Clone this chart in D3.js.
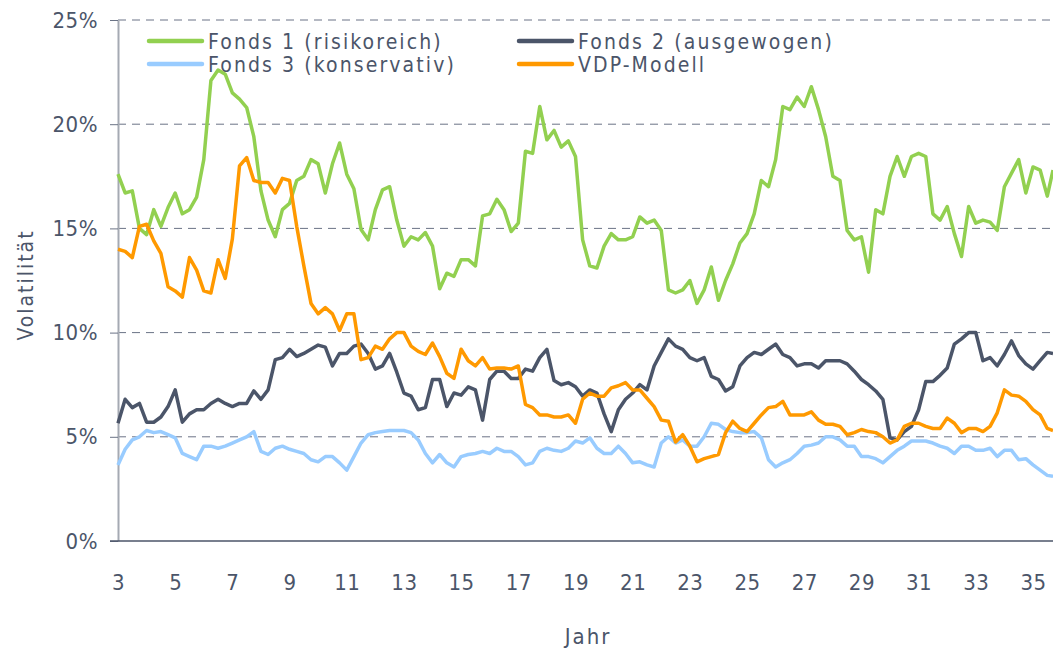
<!DOCTYPE html>
<head>
  <meta charset="utf-8">
  <script src="https://d3js.org/d3.v7.min.js"></script>
  <style>
    body { margin:0; background:#fff; }
    text { font-family: 'DejaVu Sans Condensed', 'DejaVu Sans', sans-serif; fill: #4b5569; }
    .grid-line { stroke: #6b7386; stroke-dasharray: 8,6; stroke-width: 1; }
    .y-axis path { stroke: #a5aab3; stroke-width: 2; }
    .y-axis line { stroke: #6b7386; }
    .x-axis path { stroke: #4b5569; stroke-width: 1.5; }
    .tick text { font-size: 22px; letter-spacing: 0.5px; }
    .axis-title { font-size: 21px; letter-spacing: 2px; }
    .fund-line { fill: none; stroke-width: 3.5; stroke-linejoin: round; }
    .legend text { font-size: 21px; letter-spacing: 2.1px; }
  </style>
</head>
<body>
<script>
// time axis (years), one point every quarter year, last point at the right edge
var years = d3.range(3, 35.51, 0.25).concat([35.7]);

var fonds1 = [17.6,16.7,16.8,15.0,14.7,15.9,15.1,16.0,16.7,15.7,15.9,16.5,18.3,22.1,22.6,22.4,21.5,21.2,20.8,19.4,
  16.8,15.4,14.6,15.9,16.2,17.3,17.5,18.3,18.1,16.7,18.1,19.1,17.6,16.9,14.95,14.45,15.9,16.85,17.0,15.4,
  14.15,14.6,14.45,14.8,14.15,12.1,12.85,12.7,13.5,13.5,13.2,15.6,15.7,16.4,15.9,14.85,15.25,18.7,18.6,20.85,
  19.25,19.7,18.9,19.2,18.45,14.45,13.2,13.1,14.15,14.75,14.45,14.45,14.6,15.55,15.25,15.4,14.9,12.05,11.9,12.05,
  12.5,11.4,12.05,13.15,11.55,12.5,13.3,14.3,14.75,15.7,17.3,17.0,18.3,20.85,20.7,21.3,20.85,21.8,20.7,19.4,
  17.5,17.3,14.9,14.45,14.6,12.9,15.9,15.7,17.5,18.45,17.5,18.45,18.6,18.45,15.7,15.4,16.05,14.75,13.65,16.05,
  15.25,15.4,15.3,14.9,17.0,17.65,18.3,16.7,17.95,17.8,16.55,17.8];

var fonds2 = [5.65,6.8,6.4,6.6,5.7,5.7,5.95,6.45,7.25,5.7,6.1,6.3,6.3,6.6,6.8,6.6,6.45,6.6,6.6,7.2,
  6.8,7.25,8.7,8.8,9.2,8.85,9.0,9.2,9.4,9.3,8.4,9.0,9.0,9.35,9.45,9.0,8.25,8.4,9.0,8.1,
  7.1,6.95,6.3,6.4,7.75,7.75,6.45,7.1,7.0,7.4,7.25,5.8,7.75,8.15,8.15,7.8,7.8,8.25,8.15,8.8,
  9.2,7.7,7.5,7.6,7.4,6.95,7.25,7.1,6.1,5.25,6.3,6.8,7.1,7.5,7.25,8.4,9.05,9.7,9.35,9.2,
  8.8,8.65,8.8,7.9,7.75,7.2,7.4,8.4,8.8,9.05,8.95,9.2,9.45,8.95,8.8,8.4,8.5,8.5,8.3,8.65,
  8.65,8.65,8.5,8.15,7.75,7.5,7.2,6.8,4.95,4.85,5.25,5.5,6.3,7.65,7.65,7.95,8.3,9.45,9.7,10.0,
  10.0,8.65,8.8,8.4,8.95,9.6,8.9,8.5,8.25,8.65,9.05,9.0];

var fonds3 = [3.65,4.4,4.85,5.0,5.3,5.2,5.25,5.1,4.95,4.2,4.05,3.9,4.55,4.55,4.45,4.55,4.7,4.85,5.0,5.25,
  4.3,4.15,4.45,4.55,4.4,4.3,4.2,3.9,3.8,4.05,4.05,3.75,3.4,4.05,4.7,5.1,5.2,5.25,5.3,5.3,
  5.3,5.2,4.85,4.2,3.75,4.15,3.75,3.55,4.05,4.15,4.2,4.3,4.2,4.45,4.3,4.3,4.05,3.65,3.75,4.3,
  4.45,4.35,4.3,4.45,4.8,4.7,4.95,4.45,4.2,4.2,4.55,4.2,3.75,3.8,3.65,3.55,4.7,5.0,4.7,4.85,
  4.55,4.55,5.0,5.65,5.6,5.35,5.25,5.2,5.2,5.25,4.95,3.9,3.55,3.75,3.9,4.2,4.55,4.6,4.7,5.0,
  5.0,4.85,4.55,4.55,4.05,4.05,3.95,3.75,4.05,4.35,4.55,4.8,4.8,4.8,4.7,4.55,4.45,4.2,4.55,4.55,
  4.35,4.35,4.45,4.05,4.35,4.35,3.9,3.95,3.65,3.4,3.15,3.1];

var vdp = [14.0,13.9,13.6,15.1,15.2,14.4,13.8,12.2,12.0,11.7,13.6,13.0,12.0,11.9,13.5,12.6,14.5,18.0,18.4,17.3,
  17.2,17.2,16.7,17.4,17.3,15.1,13.2,11.4,10.9,11.2,10.9,10.1,10.9,10.9,8.7,8.8,9.35,9.2,9.7,10.0,
  10.0,9.35,9.1,8.95,9.5,8.85,8.05,7.8,9.2,8.65,8.4,8.8,8.25,8.3,8.3,8.25,8.4,6.55,6.4,6.05,
  6.05,5.95,5.95,6.05,5.65,6.8,7.1,6.95,6.95,7.35,7.45,7.6,7.25,7.25,6.85,6.45,5.8,5.75,4.75,5.1,
  4.55,3.8,3.95,4.05,4.15,5.2,5.75,5.4,5.25,5.65,6.05,6.4,6.45,6.7,6.05,6.05,6.05,6.2,5.8,5.6,
  5.6,5.5,5.1,5.2,5.35,5.25,5.2,5.0,4.7,4.85,5.5,5.65,5.65,5.5,5.4,5.4,5.9,5.65,5.2,5.4,
  5.4,5.25,5.5,6.15,7.25,7.0,6.95,6.7,6.3,6.05,5.4,5.3];

var seriesNames = ["Fonds 1 (risikoreich)", "Fonds 2 (ausgewogen)", "Fonds 3 (konservativ)", "VDP-Modell"];
var seriesColors = ["#92d050", "#4b5569", "#99ccff", "#ff9900"];
var yTicks = [0, 5, 10, 15, 20, 25];
var xTicks = d3.range(3, 36, 2);

var W = 1053, H = 648;
var margin = {top: 20, right: 0, bottom: 107, left: 118};

var svg = d3.select("body").append("svg")
    .attr("width", W)
    .attr("height", H);

var x = d3.scaleLinear()
  .domain([3, 35.7])
  .range([margin.left, W - margin.right]);

var y = d3.scaleLinear()
  .domain([0, 25])
  .range([H - margin.bottom, margin.top]);

// dashed grid
svg.append("g").selectAll("line")
  .data(yTicks.filter(d => d > 0))
  .enter().append("line")
    .attr("class", "grid-line")
    .attr("x1", x.range()[0])
    .attr("x2", x.range()[1])
    .attr("y1", d => y(d))
    .attr("y2", d => y(d));

var yAxis = d3.axisLeft(y)
  .tickValues(yTicks)
  .tickFormat(d => d + "%")
  .tickSize(8)
  .tickSizeOuter(0)
  .tickPadding(12);

svg.append("g")
  .attr("class", "y-axis")
  .attr("transform", "translate(" + margin.left + ",0)")
  .call(yAxis);

var xAxis = d3.axisBottom(x)
  .tickValues(xTicks)
  .tickSize(0)
  .tickPadding(33);

var xg = svg.append("g")
  .attr("class", "x-axis")
  .attr("transform", "translate(0," + y(0) + ")")
  .call(xAxis);
xg.select(".domain").attr("d", "M" + (margin.left - 8) + ",0H" + W);

svg.append("text")
  .attr("class", "axis-title")
  .attr("transform", "translate(33,285) rotate(-90)")
  .attr("text-anchor", "middle")
  .text("Volatilität");

svg.append("text")
  .attr("class", "axis-title")
  .attr("x", 588)
  .attr("y", 644)
  .attr("text-anchor", "middle")
  .style("font-size", "22px")
  .text("Jahr");

// legend: two columns, two rows
var legendPos = [[149, 41], [519, 41], [149, 64], [519, 64]];
var legend = svg.append("g").attr("class", "legend");
seriesNames.forEach((name, i) => {
  var p = legendPos[i];
  legend.append("line")
    .attr("x1", p[0]).attr("x2", p[0] + 53)
    .attr("y1", p[1]).attr("y2", p[1])
    .style("stroke", seriesColors[i])
    .style("stroke-width", 4.5)
    .style("stroke-linecap", "round");
  legend.append("text")
    .attr("x", p[0] + 59)
    .attr("y", p[1] + 7.5)
    .text(name);
});

var line = d3.line()
  .x(d => x(d[0]))
  .y(d => y(d[1]));

var allSeries = [fonds1, fonds2, fonds3, vdp];
svg.append("g").selectAll("path")
  .data(allSeries)
  .enter().append("path")
    .attr("class", "fund-line")
    .attr("d", d => line(years.map((yr, i) => [yr, d[i]])))
    .style("stroke", (d, i) => seriesColors[i]);
</script>
</body>
